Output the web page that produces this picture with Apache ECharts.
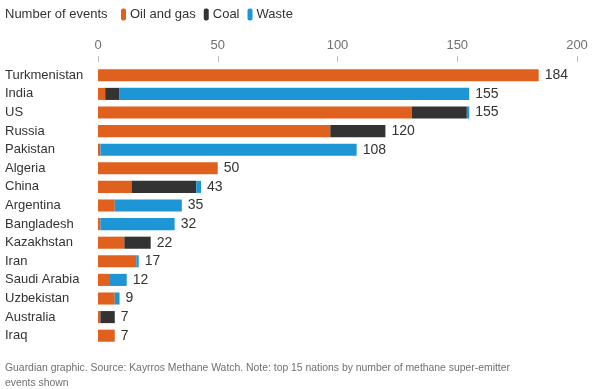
<!DOCTYPE html>
<html><head><meta charset="utf-8">
<script src="https://cdn.jsdelivr.net/npm/echarts@6/dist/echarts.min.js"></script>
<style>html,body{margin:0;padding:0;background:#fff}#c{width:602px;height:389px}</style>
</head><body><div id="c"></div>
<script>
const countries = ["Turkmenistan","India","US","Russia","Pakistan","Algeria","China","Argentina","Bangladesh","Kazakhstan","Iran","Saudi Arabia","Uzbekistan","Australia","Iraq"];
const oilGas = [184,3,131,97,1,50,14,7,1,11,16,5,7,1,7];
const coal   = [0,6,23,23,0,0,27,0,0,11,0,0,0,6,0];
const waste  = [0,146,1,0,107,0,2,28,31,0,1,7,2,0,0];
const xTicks = [0,50,100,150,200];
const totals = countries.map((_, i) => oilGas[i] + coal[i] + waste[i]);

const FONT = '"Liberation Sans", Arial, sans-serif';
const chart = echarts.init(document.getElementById('c'), null, {renderer: 'canvas'});
const pill = 'path://M0,2 Q0,0 2,0 L3,0 Q5,0 5,2 L5,10 Q5,12 3,12 L2,12 Q0,12 0,10 Z';
chart.setOption({
  animation: false,
  textStyle: {fontFamily: FONT},
  title: [{
    text: 'Number of events', left: 5, top: 8, padding: 0,
    textStyle: {fontSize: 13, fontWeight: 'normal', color: '#333', fontFamily: FONT}
  }, {
    text: 'Guardian graphic. Source: Kayrros Methane Watch. Note: top 15 nations by number of methane super-emitter\nevents shown',
    left: 5, top: 361, padding: 0,
    textStyle: {fontSize: 10.4, fontWeight: 'normal', color: '#707070', lineHeight: 15, fontFamily: FONT}
  }],
  legend: {
    left: 116, top: 3, itemWidth: 5, itemHeight: 12, itemGap: 8,
    icon: pill,
    textStyle: {fontSize: 13, color: '#333', padding: [0,0,0,-1], fontFamily: FONT},
    data: ['Oil and gas','Coal','Waste']
  },
  grid: {left: 98, right: 25, top: 66, bottom: 44, containLabel: false},
  xAxis: {
    type: 'value', position: 'top', min: xTicks[0], max: xTicks[xTicks.length-1], interval: 50,
    offset: 4,
    axisLine: {show: false},
    axisTick: {show: true, length: 6, lineStyle: {color: '#bbb'}},
    axisLabel: {fontSize: 13, color: '#707070', margin: 10, fontFamily: FONT},
    splitLine: {show: false}
  },
  yAxis: {
    type: 'category', inverse: true, data: countries,
    axisLine: {show: false}, axisTick: {show: false},
    axisLabel: {fontSize: 13, color: '#333', align: 'left', margin: 93, fontFamily: FONT}
  },
  series: [
    {name: 'Oil and gas', type: 'bar', stack: 't', data: oilGas, barCategoryGap: '35%', itemStyle: {color: '#e0601e'}},
    {name: 'Coal', type: 'bar', stack: 't', data: coal, itemStyle: {color: '#333333'}},
    {name: 'Waste', type: 'bar', stack: 't', data: waste, itemStyle: {color: '#1e96d6'},
      label: {show: true, position: 'right', distance: 6, fontSize: 14, color: '#333', fontFamily: FONT,
        formatter: p => totals[p.dataIndex]}}
  ]
});
</script></body></html>
